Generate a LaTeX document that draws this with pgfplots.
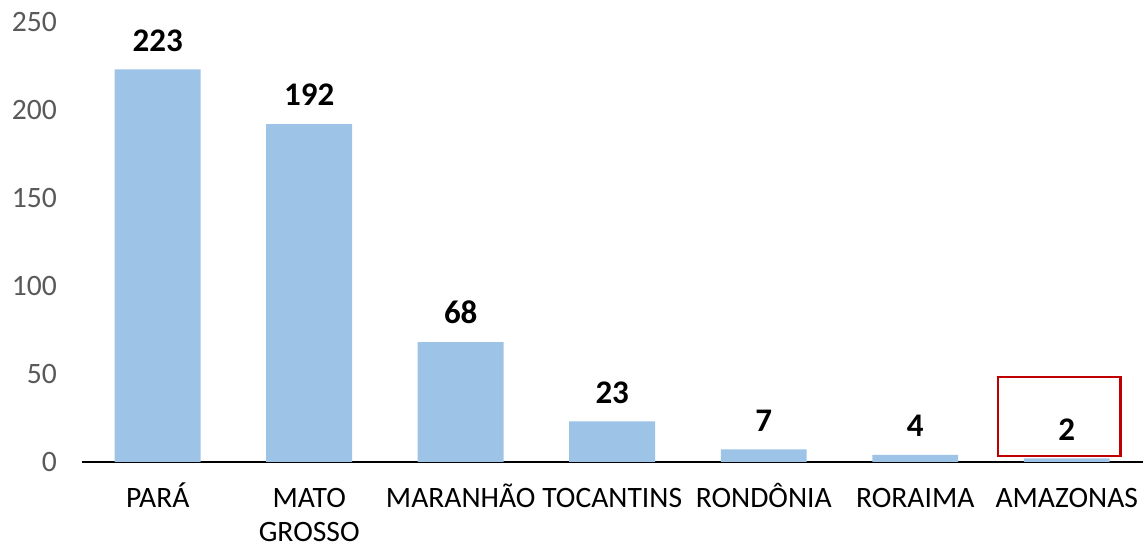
\documentclass[border=0pt]{standalone}
\usepackage{pgfplots}
\pgfplotsset{compat=1.18}
\usepackage{fontspec}
\setmainfont{Carlito}
\definecolor{barblue}{RGB}{157,195,230}
\definecolor{ticgray}{RGB}{89,89,89}
\definecolor{boxred}{RGB}{192,0,0}
\newcommand\st{\rule{0pt}{14pt}}
\begin{document}
\begin{tikzpicture}
\begin{axis}[
  at={(0,0)}, anchor=south west,
  scale only axis,
  width=530.5pt, height=220pt,
  xmin=-0.5, xmax=6.5, ymin=0, ymax=250,
  ytick={0,50,100,150,200,250},
  xtick=data,
  xticklabels={{\st PARÁ},{\st MATO\\GROSSO},{\st MARANHÃO},{\st TOCANTINS},{\st RONDÔNIA},{\st RORAIMA},{\st AMAZONAS}},
  xticklabel style={align=center, anchor=north, font=\fontsize{14.8}{16.8}\selectfont, yshift=-5.3pt, text=black},
  yticklabel style={font=\fontsize{14.8}{17.5}\selectfont, text=ticgray, xshift=-9pt},
  /pgf/number format/assume math mode=true,
  axis x line*=bottom, axis y line*=left,
  x axis line style={black, line width=0.75pt, -},
  y axis line style={draw=none},
  major tick length=0pt,
  ybar, bar width=43pt,
  nodes near coords,
  nodes near coords style={font=\fontsize{16.5}{19}\selectfont\bfseries, text=black, yshift=5.5pt},
  clip=false,
]
\addplot[fill=barblue, draw=none] coordinates {(0,223) (1,192) (2,68) (3,23) (4,7) (5,4) (6,2)};
\draw[boxred, line width=1.2pt] (axis cs:5.545,48.3) rectangle (axis cs:6.356,3.4);
\end{axis}
\pgfresetboundingbox
\path (-41pt,-42.5pt) rectangle (530.75pt,231pt);
\end{tikzpicture}
\end{document}
